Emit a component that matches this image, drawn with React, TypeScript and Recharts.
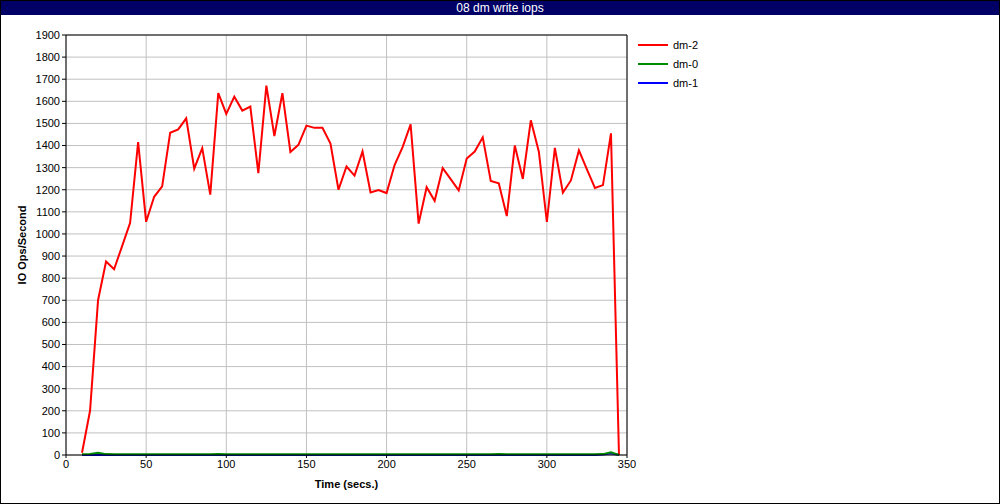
import React from "react";
import {
  LineChart,
  Line,
  XAxis,
  YAxis,
  CartesianGrid,
  ReferenceLine,
} from "recharts";

const TIMES = [
  10, 15, 20, 25, 30, 35, 40, 45, 50, 55, 60, 65, 70, 75, 80, 85, 90, 95, 100,
  105, 110, 115, 120, 125, 130, 135, 140, 145, 150, 155, 160, 165, 170, 175,
  180, 185, 190, 195, 200, 205, 210, 215, 220, 225, 230, 235, 240, 245, 250,
  255, 260, 265, 270, 275, 280, 285, 290, 295, 300, 305, 310, 315, 320, 325,
  330, 335, 340, 345,
];

const DM2 = [
  10, 200, 700, 875, 840, 945, 1050, 1415, 1055, 1168, 1215, 1458, 1473, 1523,
  1295, 1388, 1178, 1637, 1543, 1621, 1558, 1576, 1275, 1671, 1443, 1637, 1371,
  1403, 1490, 1480, 1480, 1409, 1200, 1305, 1264, 1373, 1188, 1199, 1185, 1312,
  1393, 1496, 1047, 1211, 1150, 1298, 1248, 1197, 1341, 1373, 1437, 1240, 1229,
  1081, 1400, 1249, 1514, 1372, 1054, 1389, 1187, 1242, 1378, 1292, 1208, 1221,
  1455, 0,
];

const DM0 = [
  3, 5, 10, 4, 3, 3, 3, 3, 3, 3, 3, 3, 3, 3, 3, 3, 3, 5, 3, 3, 3, 3, 3, 3, 3,
  3, 3, 3, 3, 3, 3, 3, 3, 3, 3, 3, 3, 3, 3, 3, 3, 3, 3, 3, 3, 3, 3, 3, 3, 3,
  3, 3, 4, 3, 3, 3, 3, 3, 3, 3, 3, 3, 3, 3, 3, 4, 12, 0,
];

const DM1 = [
  0, 0, 0, 0, 0, 0, 0, 0, 0, 0, 0, 0, 0, 0, 0, 0, 0, 0, 0, 0, 0, 0, 0, 0, 0,
  0, 0, 0, 0, 0, 0, 0, 0, 0, 0, 0, 0, 0, 0, 0, 0, 0, 0, 0, 0, 0, 0, 0, 0, 0,
  0, 0, 0, 0, 0, 0, 0, 0, 0, 0, 0, 0, 0, 0, 0, 2, 8, 0,
];

const X_TICKS = [0, 50, 100, 150, 200, 250, 300, 350];
const Y_TICKS = [
  0, 100, 200, 300, 400, 500, 600, 700, 800, 900, 1000, 1100, 1200, 1300, 1400,
  1500, 1600, 1700, 1800, 1900,
];

const LEGEND = [
  { name: "dm-2", color: "#ff0000" },
  { name: "dm-0", color: "#008c00" },
  { name: "dm-1", color: "#0000ff" },
];

const FONT = "'Liberation Sans', Arial, sans-serif";

function LegendBox() {
  return (
    <div
      style={{
        position: "absolute",
        left: 637,
        top: 34,
        fontFamily: FONT,
        fontSize: 11,
        color: "#000",
      }}
    >
      {LEGEND.map((l) => (
        <div
          key={l.name}
          style={{ display: "flex", alignItems: "center", height: 19 }}
        >
          <span
            style={{
              display: "inline-block",
              width: 30,
              height: 2,
              background: l.color,
              marginRight: 5,
            }}
          />
          {l.name}
        </div>
      ))}
    </div>
  );
}

export default function App() {
  const data = TIMES.map((t, i) => ({
    t,
    dm2: DM2[i],
    dm0: DM0[i],
    dm1: DM1[i],
  }));

  return (
    <div
      style={{
        position: "absolute",
        left: 0,
        top: 0,
        width: 1000,
        height: 504,
        boxSizing: "border-box",
        border: "1px solid #000",
        background: "#fff",
        overflow: "hidden",
      }}
    >
      <div
        style={{
          height: 14,
          background: "#000066",
          color: "#fff",
          fontFamily: FONT,
          fontSize: 12,
          lineHeight: "14px",
          textAlign: "center",
        }}
      >
        08 dm write iops
      </div>
      <div style={{ position: "absolute", left: -1, top: -1 }}>
        <LineChart
          width={1000}
          height={504}
          data={data}
          margin={{ top: 35, right: 373, bottom: 19, left: 16 }}
        >
          <CartesianGrid stroke="#c0c0c0" strokeWidth={1} />
          <XAxis
            dataKey="t"
            type="number"
            domain={[0, 350]}
            ticks={X_TICKS}
            height={30}
            tickSize={3}
            stroke="#000"
            tick={{ fontSize: 11, fill: "#000", fontFamily: FONT }}
            label={{
              value: "Time (secs.)",
              position: "insideBottom",
              offset: -3,
              style: { fontSize: 11, fontWeight: "bold", fill: "#000", fontFamily: FONT },
            }}
          />
          <YAxis
            type="number"
            domain={[0, 1900]}
            ticks={Y_TICKS}
            width={50}
            tickSize={4}
            interval={0}
            stroke="#000"
            tick={{ fontSize: 11, fill: "#000", fontFamily: FONT }}
            label={{
              value: "IO Ops/Second",
              angle: -90,
              position: "insideLeft",
              offset: 6,
              style: {
                fontSize: 11,
                fontWeight: "bold",
                fill: "#000",
                fontFamily: FONT,
                textAnchor: "middle",
              },
            }}
          />
          <ReferenceLine y={1900} stroke="#000" />
          <ReferenceLine x={350} stroke="#000" />
          <Line
            dataKey="dm2"
            name="dm-2"
            stroke="#ff0000"
            strokeWidth={2}
            dot={false}
            isAnimationActive={false}
          />
          <Line
            dataKey="dm1"
            name="dm-1"
            stroke="#0000ff"
            strokeWidth={2}
            dot={false}
            isAnimationActive={false}
          />
          <Line
            dataKey="dm0"
            name="dm-0"
            stroke="#008c00"
            strokeWidth={2}
            dot={false}
            isAnimationActive={false}
          />
        </LineChart>
      </div>
      <LegendBox />
    </div>
  );
}
